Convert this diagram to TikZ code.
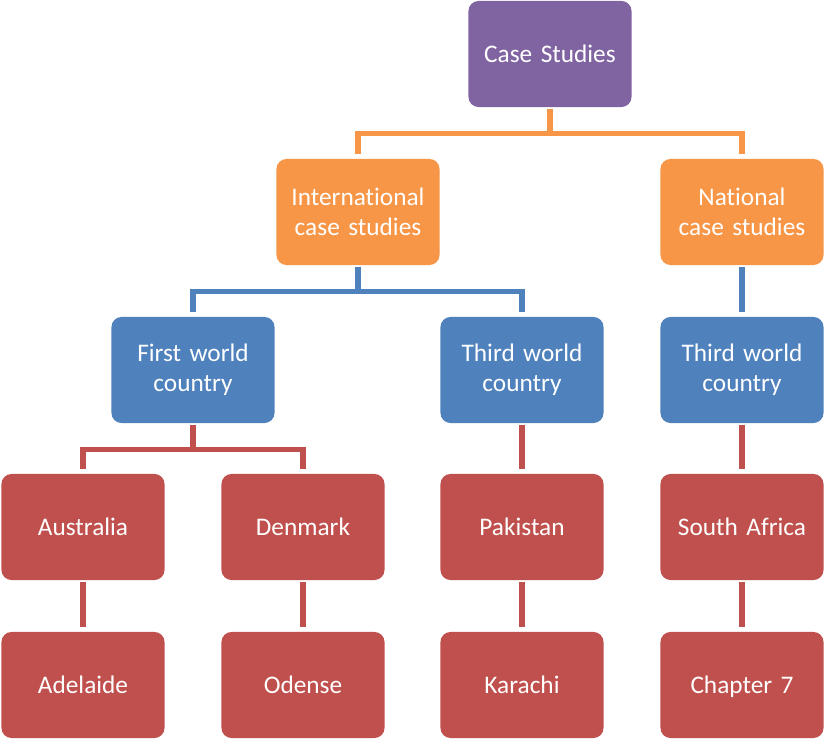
\documentclass[tikz,border=0pt]{standalone}
\usepackage{fontspec}
\setmainfont{Carlito}[Ligatures=NoCommon]
\usepackage{tikz}
\usetikzlibrary{positioning}
\definecolor{cspurple}{HTML}{8064A2}
\definecolor{csorange}{HTML}{F79646}
\definecolor{csblue}{HTML}{4F81BD}
\definecolor{csred}{HTML}{C0504D}

\begin{document}
\begin{tikzpicture}[
  x=0.025cm, y=-0.025cm,
  box/.style={rounded corners=0.25cm, minimum height=2.65cm, minimum width=4.075cm,
              text width=3.8cm, align=center, text=white, inner sep=0pt,
              font=\fontsize{18}{21.5}\selectfont},
  link/.style={line width=3.6pt, shorten <=1pt, shorten >=3pt}
]
\useasboundingbox (0,0) rectangle (825,740);

\node[box, fill=cspurple] (root)  at (550,54)  {Case Studies};
\node[box, fill=csorange] (intl)  at (358,212) {International case studies};
\node[box, fill=csorange] (natl)  at (742,212) {National case studies};
\node[box, fill=csblue]   (first) at (193,370) {First world country};
\node[box, fill=csblue]   (third) at (522,370) {Third world country};
\node[box, fill=csblue]   (thirdn) at (742,370) {Third world country};
\node[box, fill=csred]    (aus)   at (83,527)  {Australia};
\node[box, fill=csred]    (den)   at (303,527) {Denmark};
\node[box, fill=csred]    (pak)   at (522,527) {Pakistan};
\node[box, fill=csred]    (sa)    at (742,527) {South Africa};
\node[box, fill=csred]    (adl)   at (83,685)  {Adelaide};
\node[box, fill=csred]    (ode)   at (303,685) {Odense};
\node[box, fill=csred]    (kar)   at (522,685) {Karachi};
\node[box, fill=csred, text depth=0pt] (ch7) at (742,685) {Chapter 7};

\draw[link, csorange] (root.south) -- ++(0,26) -| (intl.north);
\draw[link, csorange] (root.south) -- ++(0,26) -| (natl.north);
\draw[link, csblue] (intl.south) -- ++(0,26) -| (first.north);
\draw[link, csblue] (intl.south) -- ++(0,26) -| (third.north);
\draw[link, csblue] (natl) -- (thirdn);
\draw[link, csred] (first.south) -- ++(0,26) -| (aus.north);
\draw[link, csred] (first.south) -- ++(0,26) -| (den.north);
\draw[link, csred] (third) -- (pak);
\draw[link, csred] (thirdn) -- (sa);
\draw[link, csred] (aus) -- (adl);
\draw[link, csred] (den) -- (ode);
\draw[link, csred] (pak) -- (kar);
\draw[link, csred] (sa) -- (ch7);
\end{tikzpicture}
\end{document}
